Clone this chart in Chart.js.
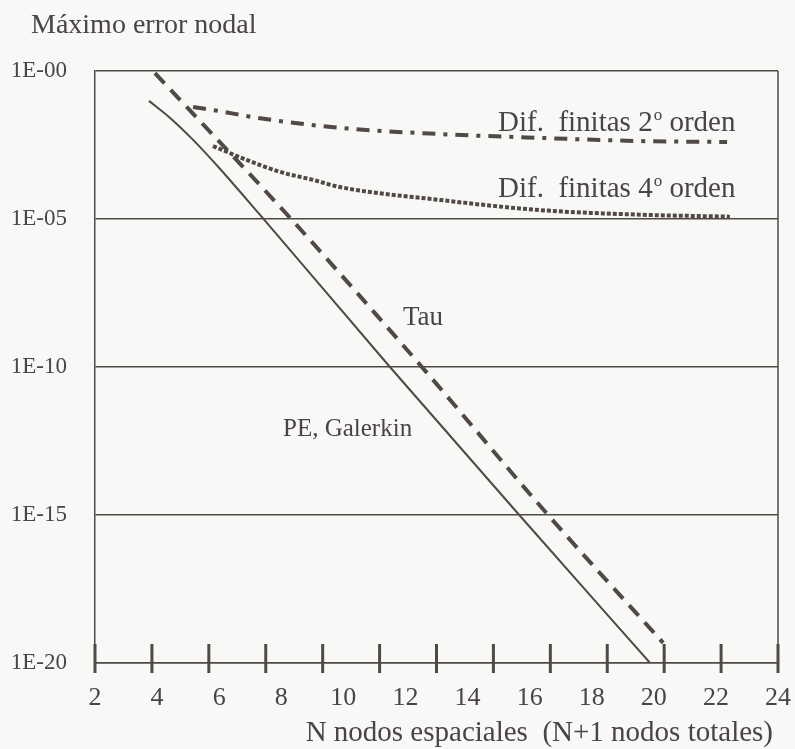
<!DOCTYPE html>
<html lang="es">
<head>
<meta charset="utf-8">
<title>Máximo error nodal</title>
<script src="https://cdn.jsdelivr.net/npm/chart.js@4.4.1/dist/chart.umd.min.js"></script>
<style>
    html, body { margin: 0; padding: 0; background: #f8f8f6; }
    #wrap { width: 795px; height: 749px; }
</style>
</head>
<body>
<div id="wrap"><canvas id="errorChart" width="795" height="749"></canvas></div>
<script>
// Valores: N nodos espaciales y máximo error nodal
const galerkinN   = [3.74, 4.42, 5.16, 6.03, 7.31, 11.5, 15.63, 19.88];
const galerkinErr = [9.8e-2, 2.6e-2, 4.7e-3, 4.9e-4, 1.4e-5, 1e-10, 1.1e-15, 1e-20];

const tauN   = [3.93, 8.28, 12.53, 16.56, 20.3];
const tauErr = [8.5e-1, 1.1e-5, 1e-10, 1.1e-15, 4.8e-20];

const fd2N   = [5.16, 5.96, 7.25, 9.89, 13.11, 16.33, 19.55, 22.36];
const fd2Err = [6.1e-2, 4.5e-2, 2.6e-2, 1.2e-2, 7.4e-3, 5.5e-3, 4.3e-3, 4.0e-3];

const fd4N   = [5.8, 6.9, 7.96, 9.02, 9.89, 13.11, 16.33, 19.55, 22.45];
const fd4Err = [2.9e-3, 9.8e-4, 3.9e-4, 2.1e-4, 1.2e-4, 4.4e-5, 2.0e-5, 1.4e-5, 1.2e-5];

const xMin = 2, xMax = 24, xStep = 2;
const xTickMarkCount = 13;   // el original tiene 13 marcas para 12 rótulos
const yTicks      = [1e-20, 1e-15, 1e-10, 1e-5, 1];
const yTickLabels = ['1E-20', '1E-15', '1E-10', '1E-05', '1E-00'];

const INK = '#514848';
const TEXT = '#4a4444';
const SERIF = '"Liberation Serif", "Times New Roman", serif';

function toPoints(xs, ys) {
    return xs.map((v, i) => ({ x: v, y: ys[i] }));
}

// texto con "o" volada (2º, 4º)
function drawOrdinal(ctx, before, after, x, y, size) {
    ctx.font = size + 'px ' + SERIF;
    ctx.fillText(before, x, y);
    let w = ctx.measureText(before).width;
    ctx.font = Math.round(size * 0.6) + 'px ' + SERIF;
    ctx.fillText('o', x + w + 1, y - size * 0.38);
    w += ctx.measureText('o').width + 1;
    ctx.font = size + 'px ' + SERIF;
    ctx.fillText(after, x + w, y);
}

const paperPlugin = {
    id: 'paper',
    afterDraw(chart) {
        const { ctx, chartArea: a, scales: { x } } = chart;
        ctx.save();
        ctx.strokeStyle = INK;

        // borde derecho
        ctx.lineWidth = 1.5;
        ctx.beginPath();
        ctx.moveTo(a.right, a.top);
        ctx.lineTo(a.right, a.bottom);
        ctx.stroke();

        // marcas del eje x, cruzando la línea
        ctx.lineWidth = 3;
        for (let k = 0; k < xTickMarkCount; k++) {
            const px = x.getPixelForValue(x.min + k * (x.max - x.min) / (xTickMarkCount - 1));
            ctx.beginPath();
            ctx.moveTo(px, a.bottom - 19);
            ctx.lineTo(px, a.bottom + 10);
            ctx.stroke();
        }

        ctx.fillStyle = TEXT;
        ctx.textBaseline = 'alphabetic';
        ctx.textAlign = 'left';
        ctx.font = '28px ' + SERIF;
        ctx.fillText('Máximo error nodal', 31, 33);

        ctx.textAlign = 'right';
        ctx.font = '29px ' + SERIF;
        ctx.fillText('N nodos espaciales  (N+1 nodos totales)', 773, 741);

        ctx.textAlign = 'left';
        drawOrdinal(ctx, 'Dif.  finitas 2', ' orden', 498, 131, 29);
        drawOrdinal(ctx, 'Dif.  finitas 4', ' orden', 498, 197, 29);
        ctx.font = '27px ' + SERIF;
        ctx.fillText('Tau', 403, 325);
        ctx.font = '25px ' + SERIF;
        ctx.fillText('PE, Galerkin', 283, 436);
        ctx.restore();
    }
};

new Chart(document.getElementById('errorChart'), {
    type: 'line',
    data: {
        datasets: [
            {
                label: 'PE, Galerkin',
                data: toPoints(galerkinN, galerkinErr),
                borderColor: INK,
                borderWidth: 2,
                cubicInterpolationMode: 'monotone'
            },
            {
                label: 'Tau',
                data: toPoints(tauN, tauErr),
                borderColor: INK,
                borderWidth: 4,
                borderDash: [14, 9],
                cubicInterpolationMode: 'monotone'
            },
            {
                label: 'Dif. finitas 2º orden',
                data: toPoints(fd2N, fd2Err),
                borderColor: INK,
                borderWidth: 4,
                borderDash: [13, 8, 4, 8],
                cubicInterpolationMode: 'monotone'
            },
            {
                label: 'Dif. finitas 4º orden',
                data: toPoints(fd4N, fd4Err),
                borderColor: INK,
                borderWidth: 4,
                borderDash: [4, 2],
                cubicInterpolationMode: 'monotone'
            }
        ]
    },
    options: {
        responsive: false,
        animation: false,
        events: [],
        layout: { padding: { top: 71, right: 17, left: 0, bottom: 0 } },
        elements: { point: { radius: 0 } },
        plugins: {
            legend: { display: false },
            tooltip: { enabled: false }
        },
        scales: {
            x: {
                type: 'linear',
                min: xMin,
                max: xMax,
                afterFit(scale) {
                    scale.height = 86;
                    scale.paddingRight = 0;
                },
                ticks: {
                    stepSize: xStep,
                    padding: 20,
                    color: TEXT,
                    font: { family: SERIF, size: 26 },
                    maxRotation: 0
                },
                grid: { display: false, drawTicks: false },
                border: { display: true, color: INK, width: 1.5 }
            },
            y: {
                type: 'logarithmic',
                min: yTicks[0],
                max: yTicks[yTicks.length - 1],
                afterFit(scale) { scale.width = 95; },
                afterBuildTicks(scale) {
                    scale.ticks = yTicks.map(v => ({ value: v }));
                },
                ticks: {
                    padding: 28,
                    color: TEXT,
                    font: { family: SERIF, size: 23 },
                    callback: (value) => yTickLabels[yTicks.indexOf(value)]
                },
                grid: { color: INK, lineWidth: 1.5, drawTicks: false },
                border: { display: true, color: INK, width: 1.5 }
            }
        }
    },
    plugins: [paperPlugin]
});
</script>
</body>
</html>
